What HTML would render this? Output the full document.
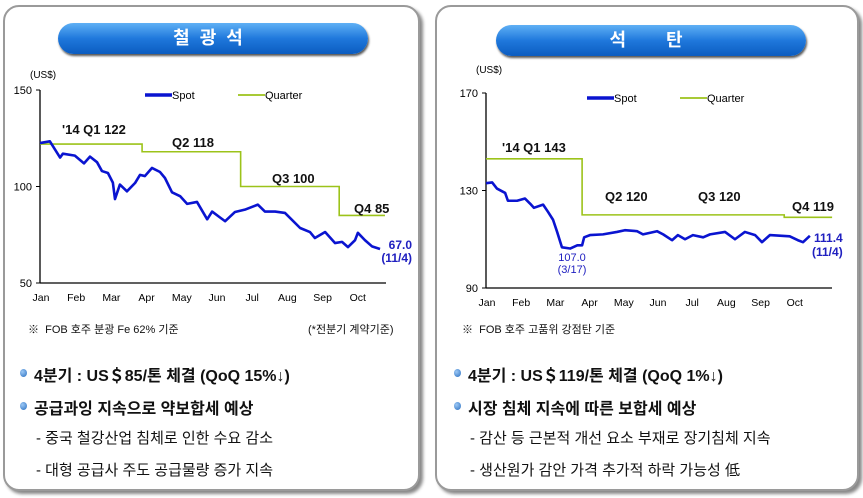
<!DOCTYPE html>
<html><head><meta charset="utf-8"><style>
body{margin:0;width:863px;height:498px;background:#fff;position:relative;overflow:hidden;font-family:"Liberation Sans","Noto Sans CJK KR",sans-serif}
.panel{position:absolute;top:5px;height:482px;border:2px solid #9a9a9a;border-radius:16px;box-shadow:3px 3px 3px #888;background:#fff}
.pill{position:absolute;height:31px;border-radius:16px;background:linear-gradient(#5fb0f5,#1f78dc 50%,#0b5cc0);color:#fff;font-weight:bold;font-size:18px;text-align:center;line-height:31px;box-shadow:1px 2px 2px #555;letter-spacing:10px}
.t{position:absolute;white-space:nowrap;color:#111}
.b{font-size:16px;font-weight:bold}
.s{font-size:15px}
.dot{position:absolute;width:7px;height:8px;border-radius:50%;background:radial-gradient(circle at 35% 35%,#9cc8f5,#2a6fc0)}
svg{position:absolute;left:0;top:0}
svg text{font-family:"Liberation Sans","Noto Sans CJK KR",sans-serif}
</style></head><body>
<div class="panel" style="left:3px;width:413px"></div>
<div class="panel" style="left:435px;width:420px"></div>
<div class="pill" style="left:58px;top:23px;width:310px">철광석</div>
<div class="pill" style="left:496px;top:25px;width:310px">석&nbsp;&nbsp;탄</div>
<svg id="chart" width="863" height="498"></svg>
<div class="t" style="left:28px;top:321px;font-size:11px">※ &nbsp;FOB 호주 분광 Fe 62% 기준</div>
<div class="t" style="left:308px;top:321px;font-size:11px">(*전분기 계약기준)</div>
<div class="t" style="left:462px;top:321px;font-size:11px">※ &nbsp;FOB 호주 고품위 강점탄 기준</div>
<div class="dot" style="left:20px;top:369px"></div>
<div class="t b" style="left:34px;top:362px">4분기 : US＄85/톤 체결 (QoQ 15%↓)</div>
<div class="dot" style="left:20px;top:402px"></div>
<div class="t b" style="left:34px;top:395px">공급과잉 지속으로 약보합세 예상</div>
<div class="t s" style="left:36px;top:427px">- 중국 철강산업 침체로 인한 수요 감소</div>
<div class="t s" style="left:36px;top:459px">- 대형 공급사 주도 공급물량 증가 지속</div>
<div class="dot" style="left:454px;top:369px"></div>
<div class="t b" style="left:468px;top:362px">4분기 : US＄119/톤 체결 (QoQ 1%↓)</div>
<div class="dot" style="left:454px;top:402px"></div>
<div class="t b" style="left:468px;top:395px">시장 침체 지속에 따른 보합세 예상</div>
<div class="t s" style="left:470px;top:427px">- 감산 등 근본적 개선 요소 부재로 장기침체 지속</div>
<div class="t s" style="left:470px;top:459px">- 생산원가 감안 가격 추가적 하락 가능성 低</div>
<script>
const months=["Jan","Feb","Mar","Apr","May","Jun","Jul","Aug","Sep","Oct"];
// iron ore: x in months since Jan 1
const ironT=[0,0.28,0.57,0.65,0.99,1.25,1.42,1.62,1.76,1.93,2.07,2.13,2.27,2.47,2.7,2.84,2.98,3.18,3.41,3.55,3.75,3.98,4.18,4.46,4.75,4.89,5.11,5.26,5.54,5.82,6.19,6.39,6.68,6.96,7.39,7.67,7.81,8.1,8.38,8.58,8.75,8.95,9.03,9.23,9.43,9.66];
const ironV=[122.5,123.4,115,117,116,112,115.5,112.6,108,107,102,93.5,101,97.5,101.8,106,105.4,109.6,107.5,104.4,97,95,91,92,83,87,84,82,86.8,88,90.6,87,87,86.3,78.5,76.4,73.3,76.4,70.7,71.3,68.6,72.2,76,72.2,69,67.6];
const ironQT=[0,2.9,2.9,5.7,5.7,8.5,8.5,9.8];
const ironQV=[122,122,118,118,100,100,85,85];
const coalT=[0,0.18,0.32,0.56,0.64,0.91,1.14,1.29,1.4,1.67,1.81,1.96,2.08,2.22,2.46,2.67,2.81,2.87,3.04,3.42,3.83,4.06,4.42,4.59,5,5.18,5.44,5.61,5.82,6.05,6.35,6.55,6.99,7.28,7.57,7.87,8.07,8.3,8.88,9.12,9.27,9.47];
const coalV=[133,133.3,130.8,129,125.8,125.8,126.7,124.6,122.9,124.2,121.3,118,113,106.7,106.2,107.5,107.5,110.8,111.7,112,113,113.7,113.3,112,113.3,112,109.6,111.7,110,111.7,110.8,112,113,110,113,111.7,108.8,111.7,111.2,109.6,108.8,111.4];
const coalQT=[0,2.81,2.81,8.72,8.72,10.12];
const coalQV=[143,143,120,120,119,119];
const svg=document.getElementById('chart');const NS='http://www.w3.org/2000/svg';
function mk(tag,a,txt){const e=document.createElementNS(NS,tag);for(const k in a)e.setAttribute(k,a[k]);if(txt!=null)e.textContent=txt;svg.appendChild(e);return e;}
function drawChart(c){
 const xs=m=>c.x0+m*c.mw, ys=v=>c.yTop+(c.vMax-v)/(c.vMax-c.vMin)*(c.yBot-c.yTop);
 let e=mk('line',{x1:c.x0,y1:c.yTop,x2:c.x0,y2:c.yBot,stroke:'#000','stroke-width':1.3});
 
 e=mk('line',{x1:c.x0,y1:c.yBot,x2:c.x1,y2:c.yBot,stroke:'#000','stroke-width':1.3});
 
 c.ticks.forEach(v=>{mk('line',{x1:c.x0-4,y1:ys(v),x2:c.x0,y2:ys(v),stroke:'#000'});
  e=mk('text',{x:c.x0-8,y:ys(v)+4,'font-size':11,'text-anchor':'end'},v);
  });
 months.forEach((m,i)=>{e=mk('text',{x:xs(i)+1,y:c.yBot+18,'font-size':10.5,'text-anchor':'middle'},m);
  });
 e=mk('text',{x:c.x0-10,y:c.unitY,'font-size':10},'(US$)');
 
 e=mk('polyline',{points:c.qt.map((t,i)=>xs(t)+','+ys(c.qv[i])).join(' '),fill:'none',stroke:'#9cc31a','stroke-width':1.6});
 
 e=mk('polyline',{points:c.st.map((t,i)=>xs(t)+','+ys(c.sv[i])).join(' '),fill:'none',stroke:'#0a14d0','stroke-width':2.6,'stroke-linejoin':'round'});
 
 e=mk('line',{x1:c.lx,y1:c.ly,x2:c.lx+27,y2:c.ly,stroke:'#0a14d0','stroke-width':3.5});
 
 e=mk('text',{x:c.lx+27,y:c.ly+4,'font-size':11},'Spot');
 
 e=mk('line',{x1:c.lx+93,y1:c.ly,x2:c.lx+120,y2:c.ly,stroke:'#9cc31a','stroke-width':1.8});
 
 e=mk('text',{x:c.lx+120,y:c.ly+4,'font-size':11},'Quarter');
 
 c.labels.forEach(l=>{e=mk('text',{x:l[0],y:l[1],'font-size':l[3]||13,'font-weight':l[4]||'bold',fill:l[5]||'#111','text-anchor':l[6]||'start'},l[2]);
  });
}
drawChart({x0:40,x1:386,mw:35.2,yTop:90,yBot:283,vMin:50,vMax:150,ticks:[150,100,50],unitY:78,lx:145,ly:95,
 st:ironT,sv:ironV,qt:ironQT,qv:ironQV,
 labels:[[62,134,"'14 Q1 122"],[172,147,"Q2 118"],[272,183,"Q3 100"],[354,213,"Q4 85"],[412,249,"67.0",12,'bold','#2020c0','end'],[412,262,"(11/4)",12,'bold','#2020c0','end']]});
drawChart({x0:486,x1:832,mw:34.2,yTop:93,yBot:288,vMin:90,vMax:170,ticks:[170,130,90],unitY:73,lx:587,ly:98,
 st:coalT,sv:coalV,qt:coalQT,qv:coalQV,
 labels:[[502,152,"'14 Q1 143"],[605,201,"Q2 120"],[698,201,"Q3 120"],[792,211,"Q4 119"],[814,242,"111.4",12,'bold','#2020c0','start'],[812,256,"(11/4)",12,'bold','#2020c0','start'],[572,261,"107.0",11,'normal','#2020c0','middle'],[572,273,"(3/17)",11,'normal','#2020c0','middle']]});
</script>
</body></html>
